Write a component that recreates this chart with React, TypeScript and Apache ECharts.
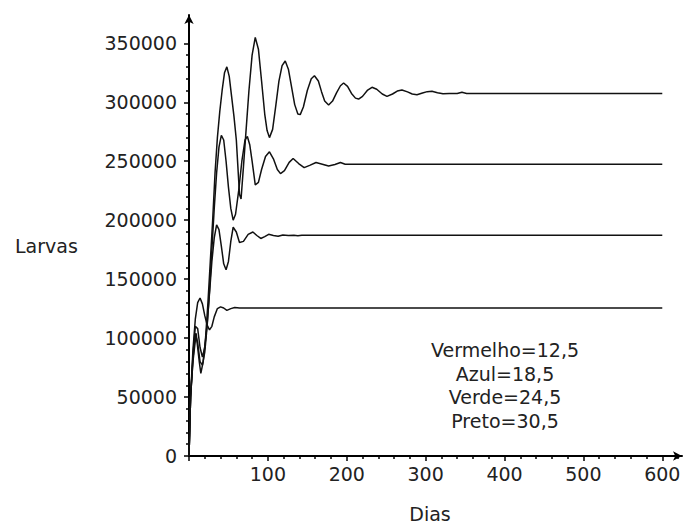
import React, { useEffect, useRef } from "react";
import * as echarts from "echarts";

// ---- tick values ----
const xMajorTicks = [0, 100, 200, 300, 400, 500, 600];
const xTickLabels = [100, 200, 300, 400, 500, 600];
const xMinorTicks = [20, 40, 60, 80, 120, 140, 160, 180, 220, 240, 260, 280, 320, 340, 360, 380, 420, 440, 460, 480, 520, 540, 560, 580, 620];
const yTickLabels = [0, 50000, 100000, 150000, 200000, 250000, 300000, 350000];
const yMinorTicks = [
  10000, 20000, 30000, 40000, 60000, 70000, 80000, 90000, 110000, 120000, 130000, 140000,
  160000, 170000, 180000, 190000, 210000, 220000, 230000, 240000, 260000, 270000, 280000, 290000,
  310000, 320000, 330000, 340000,
];

// ---- legend text ----
const legendLines = ["Vermelho=12,5", "Azul=18,5", "Verde=24,5", "Preto=30,5"];

// ---- series [dia, larvas] ----
const vermelho: [number, number][] = [
  [0, 0], [2, 50000], [5, 90000], [8, 116000], [11, 130000], [14, 134000], [17, 129000],
  [20, 119000], [23, 111000], [26, 107000], [29, 110000], [32, 118000], [36, 125000],
  [40, 126500], [44, 125500], [48, 123500], [53, 125000], [58, 126000], [64, 125500], [600, 125500],
];

const azul: [number, number][] = [
  [0, 0], [2, 50000], [5, 85000], [8, 110000], [11, 108000], [14, 92000], [17, 84000],
  [20, 92000], [23, 112000], [26, 138000], [29, 165000], [32, 185000], [35, 196000],
  [38, 192000], [41, 178000], [44, 163000], [47, 158000], [50, 165000], [53, 182000],
  [56, 194000], [60, 190000], [64, 181000], [69, 182000], [75, 188000], [81, 190000],
  [86, 187000], [91, 184500], [96, 186000], [101, 188000], [107, 187000], [113, 186300],
  [119, 187500], [126, 187000], [133, 187300], [138, 186800], [143, 187300], [600, 187300],
];

const verde: [number, number][] = [
  [0, 0], [2, 50000], [5, 82000], [8, 104000], [11, 96000], [14, 80000], [17, 77000],
  [20, 88000], [23, 110000], [26, 140000], [29, 175000], [32, 210000], [35, 240000],
  [38, 262000], [41, 272000], [44, 268000], [47, 250000], [50, 228000], [53, 210000],
  [56, 200000], [59, 205000], [63, 225000], [67, 250000], [71, 268000], [74, 271000],
  [77, 264000], [80, 250000], [84, 230000], [88, 232000], [92, 243000], [97, 254000],
  [102, 258000], [107, 252000], [112, 243000], [116, 239500], [121, 242000], [127, 249000],
  [132, 252300], [139, 248000], [146, 244600], [153, 246500], [161, 248900], [169, 247500],
  [177, 246000], [185, 247200], [192, 248900], [198, 247400], [600, 247400],
];

const preto: [number, number][] = [
  [0, 0], [2, 50000], [5, 80000], [9, 104000], [13, 80000], [15, 70000], [18, 80000],
  [21, 100000], [24, 130000], [27, 165000], [30, 200000], [33, 240000], [36, 270000],
  [39, 292000], [42, 310000], [45, 325000], [48, 330000], [51, 322000], [54, 305000],
  [57, 288000], [60, 268000], [62, 245000], [64, 222000], [66, 218000], [69, 245000],
  [72, 273000], [76, 310000], [80, 340000], [84, 355000], [88, 345000], [92, 318000],
  [96, 290000], [99, 276000], [102, 270000], [106, 277000], [110, 297000], [114, 318000],
  [118, 331000], [122, 335000], [126, 328000], [130, 313000], [134, 298000], [138, 290000],
  [141, 289500], [145, 296000], [150, 310000], [155, 320000], [159, 322500], [164, 318000],
  [168, 309000], [172, 301000], [177, 297600], [182, 301000], [187, 308000], [192, 314000],
  [196, 316300], [201, 313500], [206, 307500], [211, 303500], [215, 302700], [220, 305000],
  [226, 310000], [232, 312700], [238, 311000], [245, 307000], [251, 305000], [258, 307000],
  [264, 309500], [270, 310400], [277, 308800], [283, 307000], [289, 306400], [296, 307800],
  [302, 309000], [308, 309300], [315, 308000], [322, 307200], [330, 307500], [340, 307500],
  [346, 308500], [352, 307500], [600, 307500],
];

const seriesList: { name: string; data: [number, number][] }[] = [
  { name: "Vermelho", data: vermelho },
  { name: "Azul", data: azul },
  { name: "Verde", data: verde },
  { name: "Preto", data: preto },
];

const FONT = "DejaVu Sans";
const TEXT_COLOR = "#222";
const X_MAX = 625;
const Y_MAX = 374000;

export default function App() {
  const ref = useRef<HTMLDivElement>(null);

  useEffect(() => {
    if (!ref.current) return;
    const chart = echarts.init(ref.current, undefined, { renderer: "svg" });

    const axisLineStyle = { color: "#000", width: 2 };
    const plain = (v: number) => String(v);

    chart.setOption({
      animation: false,
      backgroundColor: "#fff",
      grid: { left: 189, right: 4, top: 15, bottom: 70, containLabel: false },
      xAxis: [
        {
          type: "value",
          min: 0,
          max: X_MAX,
          interval: 100,
          axisLine: { show: true, lineStyle: axisLineStyle, symbol: ["none", "arrow"], symbolSize: [7, 9] },
          axisTick: { show: true, length: 5, lineStyle: { color: "#000", width: 1.5 }, customValues: xMajorTicks },
          axisLabel: {
            show: true,
            customValues: xTickLabels,
            formatter: plain,
            margin: 8,
            fontFamily: FONT,
            fontSize: 19,
            color: TEXT_COLOR,
          },
          splitLine: { show: false },
        },
        {
          type: "value",
          min: 0,
          max: X_MAX,
          position: "bottom",
          axisLine: { show: false },
          axisTick: { show: true, length: 3, lineStyle: { color: "#000", width: 1.5 }, customValues: xMinorTicks },
          axisLabel: { show: false },
          splitLine: { show: false },
        },
      ],
      yAxis: [
        {
          type: "value",
          min: 0,
          max: Y_MAX,
          interval: 50000,
          position: "left",
          axisLine: { show: true, lineStyle: axisLineStyle, symbol: ["none", "arrow"], symbolSize: [7, 9] },
          axisTick: { show: true, length: 5, lineStyle: { color: "#000", width: 1.5 }, customValues: yTickLabels },
          axisLabel: {
            show: true,
            customValues: yTickLabels,
            formatter: plain,
            margin: 12,
            fontFamily: FONT,
            fontSize: 19,
            color: TEXT_COLOR,
          },
          splitLine: { show: false },
        },
        {
          type: "value",
          min: 0,
          max: Y_MAX,
          position: "left",
          axisLine: { show: false },
          axisTick: { show: true, length: 3, lineStyle: { color: "#000", width: 1.5 }, customValues: yMinorTicks },
          axisLabel: { show: false },
          splitLine: { show: false },
        },
      ],
      series: seriesList.map((s) => ({
        name: s.name,
        type: "line",
        xAxisIndex: 0,
        yAxisIndex: 0,
        data: s.data,
        showSymbol: false,
        symbol: "none",
        smooth: false,
        lineStyle: { color: "#111", width: 1.5 },
        z: 3,
      })),
      graphic: [
        {
          type: "text",
          left: 15,
          top: 236,
          style: { text: "Larvas", fontFamily: FONT, fontSize: 19, fill: TEXT_COLOR },
        },
        {
          type: "text",
          x: 430,
          y: 514,
          style: {
            text: "Dias",
            fontFamily: FONT,
            fontSize: 19,
            fill: TEXT_COLOR,
            textAlign: "center",
            textVerticalAlign: "middle",
          },
        },
        ...legendLines.map((t, i) => ({
          type: "text",
          x: 505,
          y: 350 + i * 23.5,
          style: {
            text: t,
            fontFamily: FONT,
            fontSize: 19,
            fill: TEXT_COLOR,
            textAlign: "center",
            textVerticalAlign: "middle",
          },
        })),
      ],
    });

    return () => chart.dispose();
  }, []);

  return <div ref={ref} style={{ width: 686, height: 526, position: "absolute", left: 0, top: 0 }} />;
}
